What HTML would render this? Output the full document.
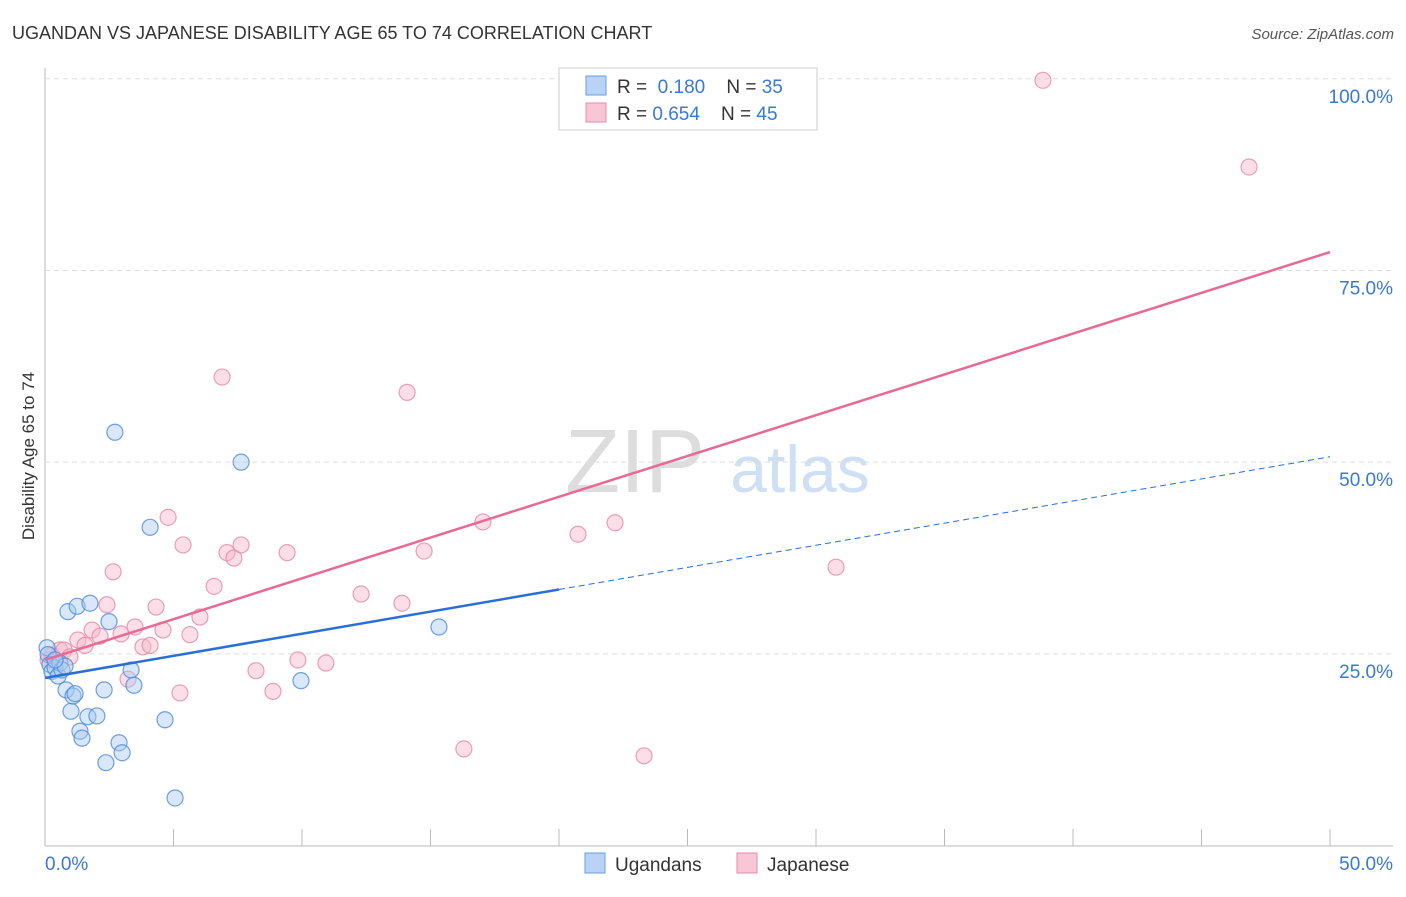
<!DOCTYPE html>
<html><head><meta charset="utf-8"><style>
body{margin:0;background:#fff;font-family:"Liberation Sans",sans-serif}
svg text{font-family:"Liberation Sans",sans-serif}
</style></head><body>
<svg id="c" width="1406" height="892">
<text x="12" y="39" font-size="18" fill="#333">UGANDAN VS JAPANESE DISABILITY AGE 65 TO 74 CORRELATION CHART</text>
<text x="1394" y="39" font-size="15" fill="#555" font-style="italic" text-anchor="end">Source: ZipAtlas.com</text>
<text x="34" y="456" font-size="17" fill="#333" transform="rotate(-90 34 456)" text-anchor="middle">Disability Age 65 to 74</text>
<text x="635" y="492" font-size="90" fill="#ddd" font-family="Liberation Serif" text-anchor="middle">ZIP</text>
<text x="800" y="492" font-size="66" fill="#cfe0f5" text-anchor="middle">atlas</text>
<g id="grid"></g><g id="marks"></g>
<g>
<rect x="559" y="68" width="258" height="62" fill="#fff" stroke="#ccc"/>
<rect x="586" y="76" width="20" height="19" fill="#b8d3f5" stroke="#6a9de0"/>
<text x="617" y="93" font-size="19" fill="#333">R = <tspan fill="#3a78d6">&#160;0.180</tspan>&#160;&#160;&#160;&#160;N = <tspan fill="#3a78d6">35</tspan></text>
<rect x="586" y="103" width="20" height="19" fill="#f9c6d5" stroke="#e58aa8"/>
<text x="617" y="120" font-size="19" fill="#333">R = <tspan fill="#3a78d6">0.654</tspan>&#160;&#160;&#160;&#160;N = <tspan fill="#3a78d6">45</tspan></text>
</g>
<g>
<rect x="585" y="853" width="20" height="20" fill="#b8d3f5" stroke="#6a9de0"/>
<text x="615" y="871" font-size="19" fill="#333">Ugandans</text>
<rect x="737" y="853" width="20" height="20" fill="#f9c6d5" stroke="#e58aa8"/>
<text x="767" y="871" font-size="19" fill="#333">Japanese</text>
</g>
</svg>
<script>
const xTicks=[0,5,10,15,20,25,30,35,40,45,50];
const yTicks=[25,50,75,100];
const yTickLabels=["25.0%","50.0%","75.0%","100.0%"];
const xEndLabels=["0.0%","50.0%"];
const ugX=[0.08,0.12,0.19,0.27,0.39,0.51,0.58,0.66,0.78,0.89,0.82,1.01,1.09,1.17,1.25,1.36,1.44,1.67,1.75,2.02,2.30,2.37,2.49,2.72,2.88,3.00,3.35,3.46,4.09,4.67,5.06,7.63,9.96,15.33,0.39];
const ugY=[25.8,24.9,23.6,22.7,23.2,22.1,23.8,22.9,23.4,30.5,20.3,17.5,19.5,19.8,31.2,14.9,14.0,16.8,31.6,16.9,20.3,10.8,29.2,53.9,13.4,12.1,22.9,20.9,41.5,16.4,6.2,50.0,21.5,28.5,24.2];
const jpX=[0.12,0.27,0.58,0.74,0.97,1.28,1.56,1.83,2.14,2.41,2.65,2.96,3.23,3.50,3.81,4.09,4.32,4.59,4.79,5.25,5.37,5.64,6.03,6.58,6.89,7.08,7.35,7.63,8.21,8.87,9.42,9.84,10.93,12.30,13.89,14.09,14.75,16.30,17.04,20.74,22.18,23.31,30.78,38.83,46.85];
const jpY=[24.2,24.8,25.5,25.5,24.6,26.8,26.1,28.1,27.3,31.4,35.7,27.6,21.7,28.5,25.9,26.1,31.1,28.1,42.8,19.9,39.2,27.5,29.8,33.8,61.1,38.2,37.5,39.2,22.8,20.1,38.2,24.2,23.8,32.8,31.6,59.1,38.4,12.6,42.2,40.6,42.1,11.7,36.3,99.8,88.5];
const ugTrend=[21.85,50.7]; const ugSolidEnd=20;
const jpTrend=[24.2,77.4];
const X=v=>45+v/50*1285, Y=v=>845.5-v*7.667;
const NS="http://www.w3.org/2000/svg";
const grid=document.getElementById('grid'), marks=document.getElementById('marks'), svg=document.getElementById('c');
function mk(p,tag,a){const e=document.createElementNS(NS,tag);for(const k in a)e.setAttribute(k,a[k]);p.appendChild(e);return e;}
let ax=mk(grid,'line',{x1:45,y1:68,x2:45,y2:846,stroke:'#bbb'});


let bx=mk(grid,'line',{x1:45,y1:846,x2:1393,y2:846,stroke:'#bbb'});


xTicks.forEach(t=>{if(t===0)return;const l=mk(grid,'line',{x1:X(t),y1:829,x2:X(t),y2:846,stroke:'#bbb'});

});
yTicks.forEach((t,i)=>{const l=mk(grid,'line',{x1:45,y1:Y(t),x2:1393,y2:Y(t),stroke:'#ddd','stroke-dasharray':'5,4'});


const tx=mk(grid,'text',{x:1393,y:Y(t)+24,'font-size':19,fill:'#3a78d6','text-anchor':'end'});tx.textContent=yTickLabels[i];

});
[[0,'start',45],[50,'end',1393]].forEach((d,i)=>{const tx=mk(grid,'text',{x:d[2],y:870,'font-size':19,fill:'#3a78d6','text-anchor':d[1]});tx.textContent=xEndLabels[i];

});
function dots(xs,ys,fill,stroke,name){xs.forEach((x,i)=>{const c=mk(marks,'circle',{cx:X(x),cy:Y(ys[i]),r:8,fill:fill,'fill-opacity':0.45,stroke:stroke,'stroke-opacity':0.8,'stroke-width':1.2});

});}
dots(jpX,jpY,'#f7b6c9','#e38aa6','japanese-point');
dots(ugX,ugY,'#a9c9f1','#4e88d9','ugandan-point');
const uy=x=>ugTrend[0]+(ugTrend[1]-ugTrend[0])*x/50;
let l1=mk(marks,'line',{x1:X(0),y1:Y(uy(0)),x2:X(ugSolidEnd),y2:Y(uy(ugSolidEnd)),stroke:'#2a6fd6','stroke-width':2.5});


let l2=mk(marks,'line',{x1:X(ugSolidEnd),y1:Y(uy(ugSolidEnd)),x2:X(50),y2:Y(uy(50)),stroke:'#2a6fd6','stroke-width':1,'stroke-dasharray':'6,4'});


let l3=mk(marks,'line',{x1:X(0),y1:Y(jpTrend[0]),x2:X(50),y2:Y(jpTrend[1]),stroke:'#e86a94','stroke-width':2.5});


</script>
</body></html>
